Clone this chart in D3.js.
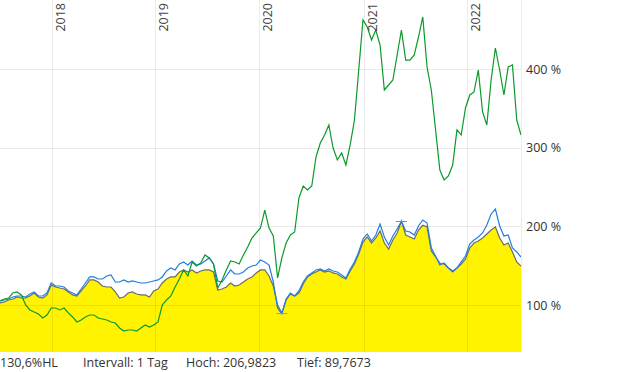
<!DOCTYPE html>
<html>
<head>
<meta charset="utf-8">
<script src="https://cdn.jsdelivr.net/npm/d3@7"></script>
<style>
  html, body { margin: 0; padding: 0; background: #fff; }
  svg { display: block; font-family: "Open Sans", sans-serif; }
</style>
</head>
<body>
<svg id="chart" width="620" height="372"></svg>
<script>
// ---- data (percent, sampled every 15 days from start) ----
const startDate = "2017-07-04";
const stepDays = 15;
const yearLabels = ["2018", "2019", "2020", "2021", "2022"];
const yTicks = [100, 200, 300, 400];
const infoLabels = ["130,6%HL", "Intervall: 1 Tag", "Hoch: 206,9823", "Tief: 89,7673"];

const mainSeries = [
  102.6,103.9,106.4,107.7,110.2,108.9,108.9,111.5,115.3,110.2,
  108.9,112.8,125.5,122.9,121.7,120.4,116.6,112.8,111.5,117.9,
  124.2,131.9,131.9,129.3,124.2,122.9,122.9,116.6,108.9,110.2,
  115.3,116.6,114.0,112.8,112.8,110.2,117.9,120.4,128.0,133.1,
  135.7,135.7,142.0,144.6,142.0,144.6,140.8,143.3,144.6,144.6,
  142.0,119.1,120.4,122.9,128.0,124.2,125.5,129.3,133.1,135.7,
  140.8,144.6,144.6,136.9,124.2,100.0,89.7673,106.4,114.0,111.5,
  115.3,126.8,135.7,139.5,142.0,144.6,142.0,143.3,140.8,139.5,
  135.7,133.1,143.3,152.2,164.9,180.2,186.6,178.9,185.3,194.2,
  178.9,171.3,182.8,191.7,206.9823,189.1,186.6,184.0,195.5,201.5,
  199.3,168.8,161.1,153.5,152.2,147.1,143.3,147.1,152.2,158.6,
  172.6,178.9,181.5,185.3,190.4,195.5,199.3,185.3,176.4,178.9,
  167.5,154.8,149.7
];

const blueSeries = [
  105.1,106.4,107.7,110.2,111.5,111.5,110.2,114.0,116.6,111.5,
  111.5,115.3,128.0,124.2,124.2,122.9,117.9,115.3,112.8,120.4,
  128.0,135.7,135.7,133.1,133.1,136.9,138.2,129.3,129.3,131.9,
  129.3,130.6,129.3,128.0,128.0,129.3,130.6,131.9,135.7,143.3,
  147.1,144.6,152.2,154.8,150.9,156.0,150.9,152.2,156.0,159.9,
  152.2,130.6,129.3,136.9,144.6,139.5,139.5,142.0,147.1,149.7,
  150.9,157.3,154.8,150.9,129.3,96.2,88.6,107.7,115.3,111.5,
  117.9,129.3,136.9,140.8,144.6,145.9,143.3,145.9,143.3,142.0,
  138.2,134.4,145.9,154.8,167.5,184.0,190.4,181.5,189.1,203.1,
  186.6,176.4,187.9,196.8,206.5,194.2,192.9,189.1,200.6,208.2,
  204.4,172.6,162.4,150.9,153.5,147.1,142.0,147.1,154.8,162.4,
  177.7,182.8,186.6,191.7,201.9,215.9,222.2,200.6,187.9,189.1,
  172.6,167.5,161.1
];

const greenSeries = [
  105.1,107.7,108.9,115.3,116.6,112.8,100.0,93.7,91.1,88.6,
  83.5,87.3,96.2,96.2,93.7,96.2,89.9,84.8,78.4,80.9,
  84.8,87.3,87.3,83.5,82.2,80.9,78.4,77.1,70.8,66.9,
  68.2,68.2,66.9,70.8,74.6,72.0,74.6,78.4,100.0,106.4,
  111.5,122.9,133.1,144.6,136.9,154.8,149.7,153.5,163.7,159.9,
  152.2,121.7,131.9,144.6,156.0,154.8,152.2,163.7,173.9,185.3,
  191.7,198.0,220.9,198.0,187.9,134.4,159.9,178.9,189.1,192.9,
  236.2,251.5,246.4,251.5,288.4,306.2,316.4,329.1,299.8,284.6,
  293.5,278.2,303.7,335.5,399.1,462.8,453.8,437.3,450.0,430.9,
  373.7,380.0,386.4,418.2,450.0,411.8,411.8,418.2,441.1,466.6,
  402.9,373.7,322.8,271.8,259.1,264.2,278.2,322.8,316.4,350.8,
  367.3,371.1,399.1,345.7,329.1,386.4,427.1,399.1,367.3,402.9,
  405.5,335.5,316.4
];

// ---- layout ----
const svg = d3.select("#chart");
const plotW = 521, plotH = 352;

const t0 = new Date(startDate + "T00:00:00Z");
const dates = mainSeries.map((_, i) => d3.utcDay.offset(t0, i * stepDays));

const x = d3.scaleUtc()
  .domain([t0, dates[dates.length - 1]])
  .range([0, plotW]);
const y = d3.scaleLinear()
  .domain([40.2, 488.2])
  .range([plotH, 0]);

const mk = arr => arr.map((v, i) => ({ d: dates[i], v }));
const mainData = mk(mainSeries), blueData = mk(blueSeries), greenData = mk(greenSeries);

svg.append("defs").append("clipPath").attr("id", "clip")
  .append("rect").attr("x", 0).attr("y", 0).attr("width", plotW).attr("height", plotH);

const plot = svg.append("g").attr("clip-path", "url(#clip)");

// area
plot.append("path")
  .datum(mainData)
  .attr("fill", "#fff300")
  .attr("d", d3.area().x(d => x(d.d)).y0(plotH).y1(d => y(d.v)));

// gridlines over area
const yearDates = yearLabels.map(s => new Date(s + "-01-01T00:00:00Z"));
const grid = svg.append("g");
grid.selectAll("line.h").data(yTicks).join("line")
  .attr("x1", 0).attr("x2", plotW)
  .attr("y1", d => Math.round(y(d)) + 0.5).attr("y2", d => Math.round(y(d)) + 0.5)
  .attr("stroke", "#000").attr("stroke-opacity", 0.08);
grid.selectAll("line.v").data(yearDates).join("line")
  .attr("x1", d => Math.round(x(d)) + 0.5).attr("x2", d => Math.round(x(d)) + 0.5)
  .attr("y1", 0).attr("y2", plotH)
  .attr("stroke", "#000").attr("stroke-opacity", 0.08);
grid.append("line")
  .attr("x1", plotW + 0.5).attr("x2", plotW + 0.5).attr("y1", 0).attr("y2", plotH)
  .attr("stroke", "#000").attr("stroke-opacity", 0.08);

const line = d3.line().x(d => x(d.d)).y(d => y(d.v));
plot.append("path").datum(mainData).attr("fill", "none")
  .attr("stroke", "#6b6b6b").attr("stroke-width", 1.2).attr("d", line);
plot.append("path").datum(blueData).attr("fill", "none")
  .attr("stroke", "#1f7fe3").attr("stroke-width", 1.2).attr("d", line);
plot.append("path").datum(greenData).attr("fill", "none")
  .attr("stroke", "#0a9a2c").attr("stroke-width", 1.2).attr("d", line);

// high / low markers of main series
const hi = mainData.reduce((a, b) => (b.v > a.v ? b : a));
const lo = mainData.reduce((a, b) => (b.v < a.v ? b : a));
svg.append("line")
  .attr("x1", x(hi.d) - 5.5).attr("x2", x(hi.d) + 5.5)
  .attr("y1", Math.round(y(hi.v)) + 0.5).attr("y2", Math.round(y(hi.v)) + 0.5)
  .attr("stroke", "#8a8a8a").attr("stroke-width", 1);
svg.append("line")
  .attr("x1", x(lo.d) - 5.5).attr("x2", x(lo.d) + 5.5)
  .attr("y1", Math.round(y(lo.v)) + 0.5).attr("y2", Math.round(y(lo.v)) + 0.5)
  .attr("stroke", "#8d9db3").attr("stroke-width", 1);

// y labels (right)
svg.selectAll("text.ylab").data(yTicks).join("text")
  .attr("x", 526).attr("y", d => y(d))
  .attr("dy", "0.36em")
  .attr("font-size", 12.5).attr("fill", "#333")
  .text(d => d + " %");

// year labels (rotated)
svg.selectAll("text.year").data(yearDates).join("text")
  .attr("transform", (d, i) => `translate(${Math.round(x(d)) + 13},3) rotate(-90)`)
  .attr("text-anchor", "end")
  .attr("font-size", 12.5).attr("fill", "#444")
  .text((d, i) => yearLabels[i]);

// footer
const footX = [0, 83, 186, 297];
svg.selectAll("text.foot").data(infoLabels).join("text")
  .attr("x", (d, i) => footX[i]).attr("y", 367)
  .attr("font-size", 12.5).attr("fill", "#333")
  .text(d => d);
</script>
</body>
</html>
